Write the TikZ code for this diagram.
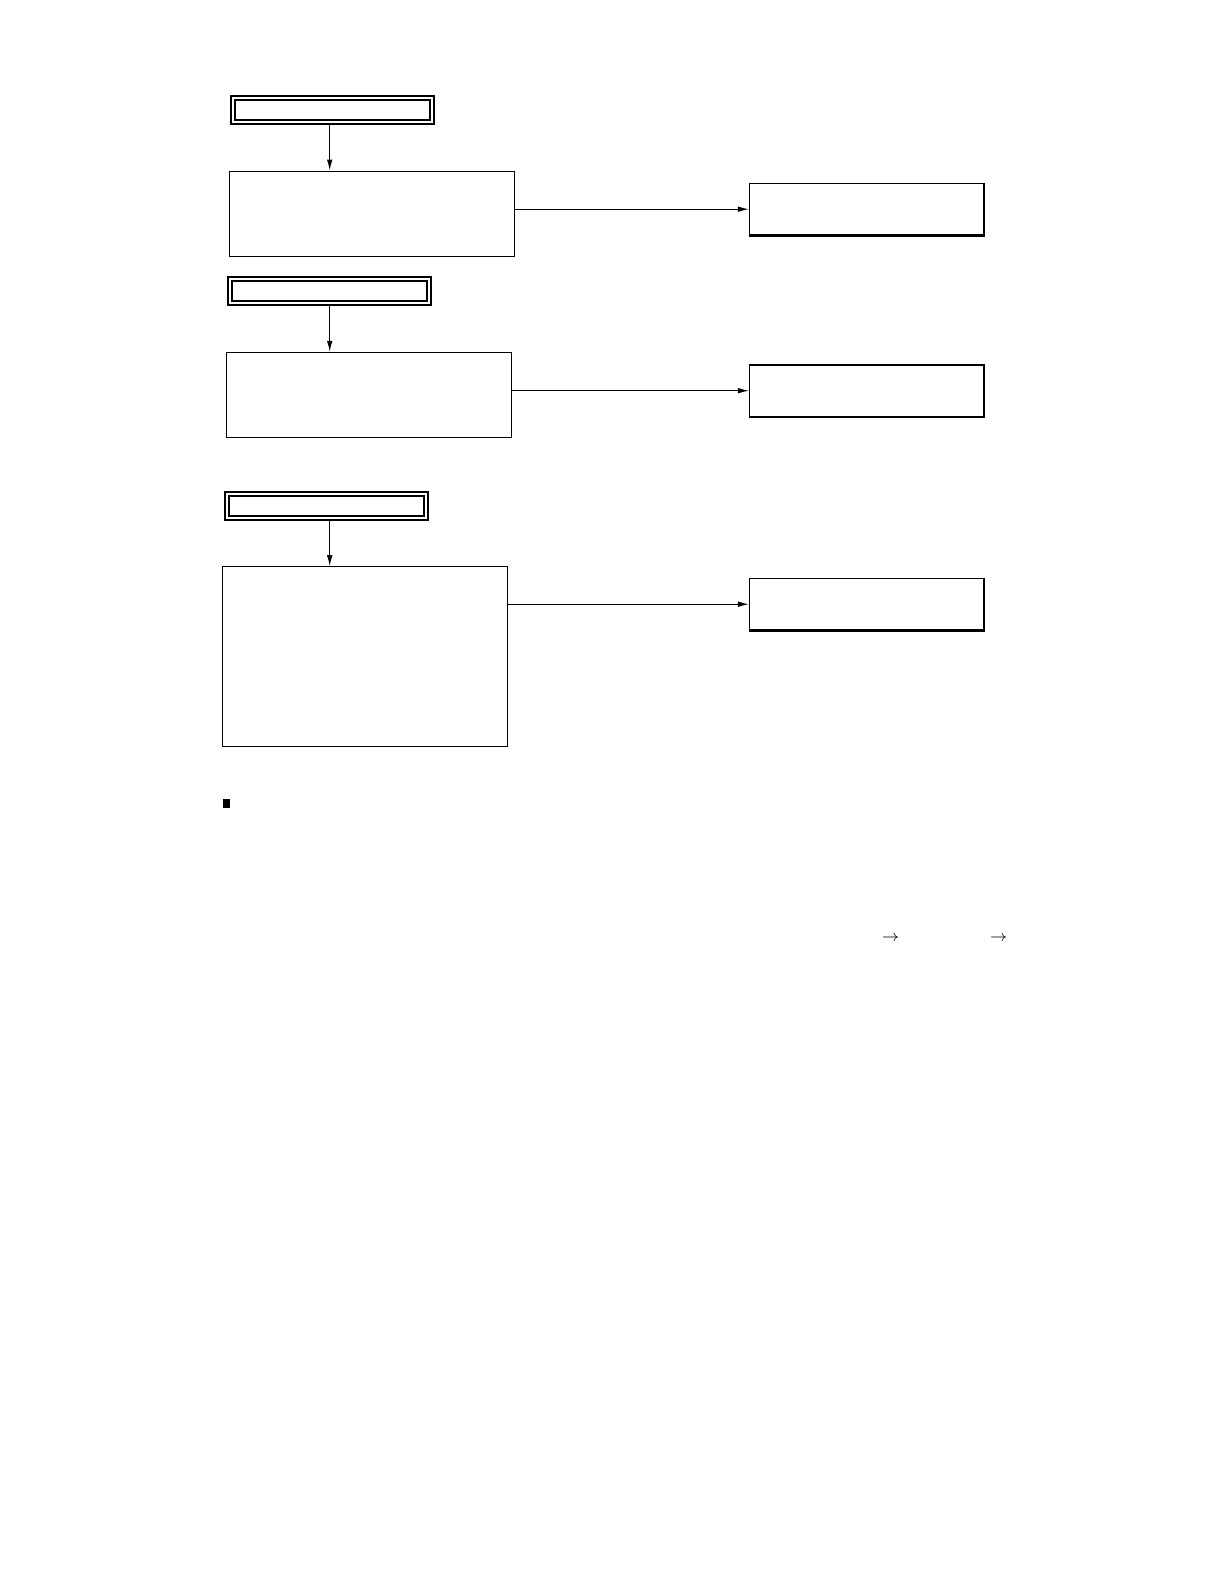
\documentclass[tikz,border=0pt]{standalone}
\usepackage{amssymb}
\usepackage{tikz}
\usetikzlibrary{
    arrows.meta,
    calc,
    positioning
}

\begin{document}
\begin{tikzpicture}[x=0.5pt, y=-0.5pt,
    titlebox/.style={draw, double, line width=1pt, double distance=1pt, minimum width=99.5pt, minimum height=12pt, inner sep=0},
    stepbox/.style={draw, line width=0.5pt, minimum width=142.7pt, inner sep=0},
    resultbox/.style={draw, line width=0.6pt, minimum width=117pt, minimum height=25.8pt, inner sep=0},
    arr/.style={line width=0.5pt, -{Latex[length=5.5pt, width=2.8pt]}}
]
\useasboundingbox (0, 0) rectangle (1224, 1584);
                                \node[titlebox] (t1) at (332.8, 110) {};
                                \node[titlebox] (t2) at (329.8, 291.3) {};
                                \node[titlebox] (t3) at (326, 505.7) {};
                                \node[stepbox, minimum height=42.5pt] (b1) at (372, 213.5) {};
                                \node[stepbox, minimum height=42.5pt] (b2) at (369, 394.8) {};
                                \node[stepbox, minimum height=89.8pt] (b3) at (364.8, 656.5) {};
                                \node[resultbox] (r1) at (866.5, 209.2) {};
                                \node[resultbox] (r2) at (866.5, 390.7) {};
                                \node[resultbox] (r3) at (866.5, 604.2) {};
                                \draw[line width=1pt] (r1.south west) -- (r1.south east) -- (r1.north east);
                                \draw[line width=1pt] (r2.south west) -- (r2.south east) -- (r2.north east);
                                \draw[line width=1pt] (r3.south west) -- (r3.south east) -- (r3.north east);
                                \draw[arr] (t1.south -| 329.7,0) -- (b1.north -| 329.7,0);
                                \draw[arr] (t2.south -| 329.7,0) -- (b2.north -| 329.7,0);
                                \draw[arr] (t3.south -| 329.7,0) -- (b3.north -| 329.7,0);
                                \draw[arr] (r1.west -| b1.east) -- (r1.west);
                                \draw[arr] (r2.west -| b2.east) -- (r2.west);
                                \draw[arr] (r3.west -| b3.east) -- (r3.west);
                                \node[fill, minimum width=3.6pt, minimum height=4.5pt, inner sep=0] (sq) at (226.3, 803.8) {};
                                \node[inner sep=0] (ar1) at (890.5, 938) {\footnotesize$\rightarrow$};
                                \node[inner sep=0] (ar2) at (998.7, 938) {\footnotesize$\rightarrow$};
                            \end{tikzpicture}
\end{document}
